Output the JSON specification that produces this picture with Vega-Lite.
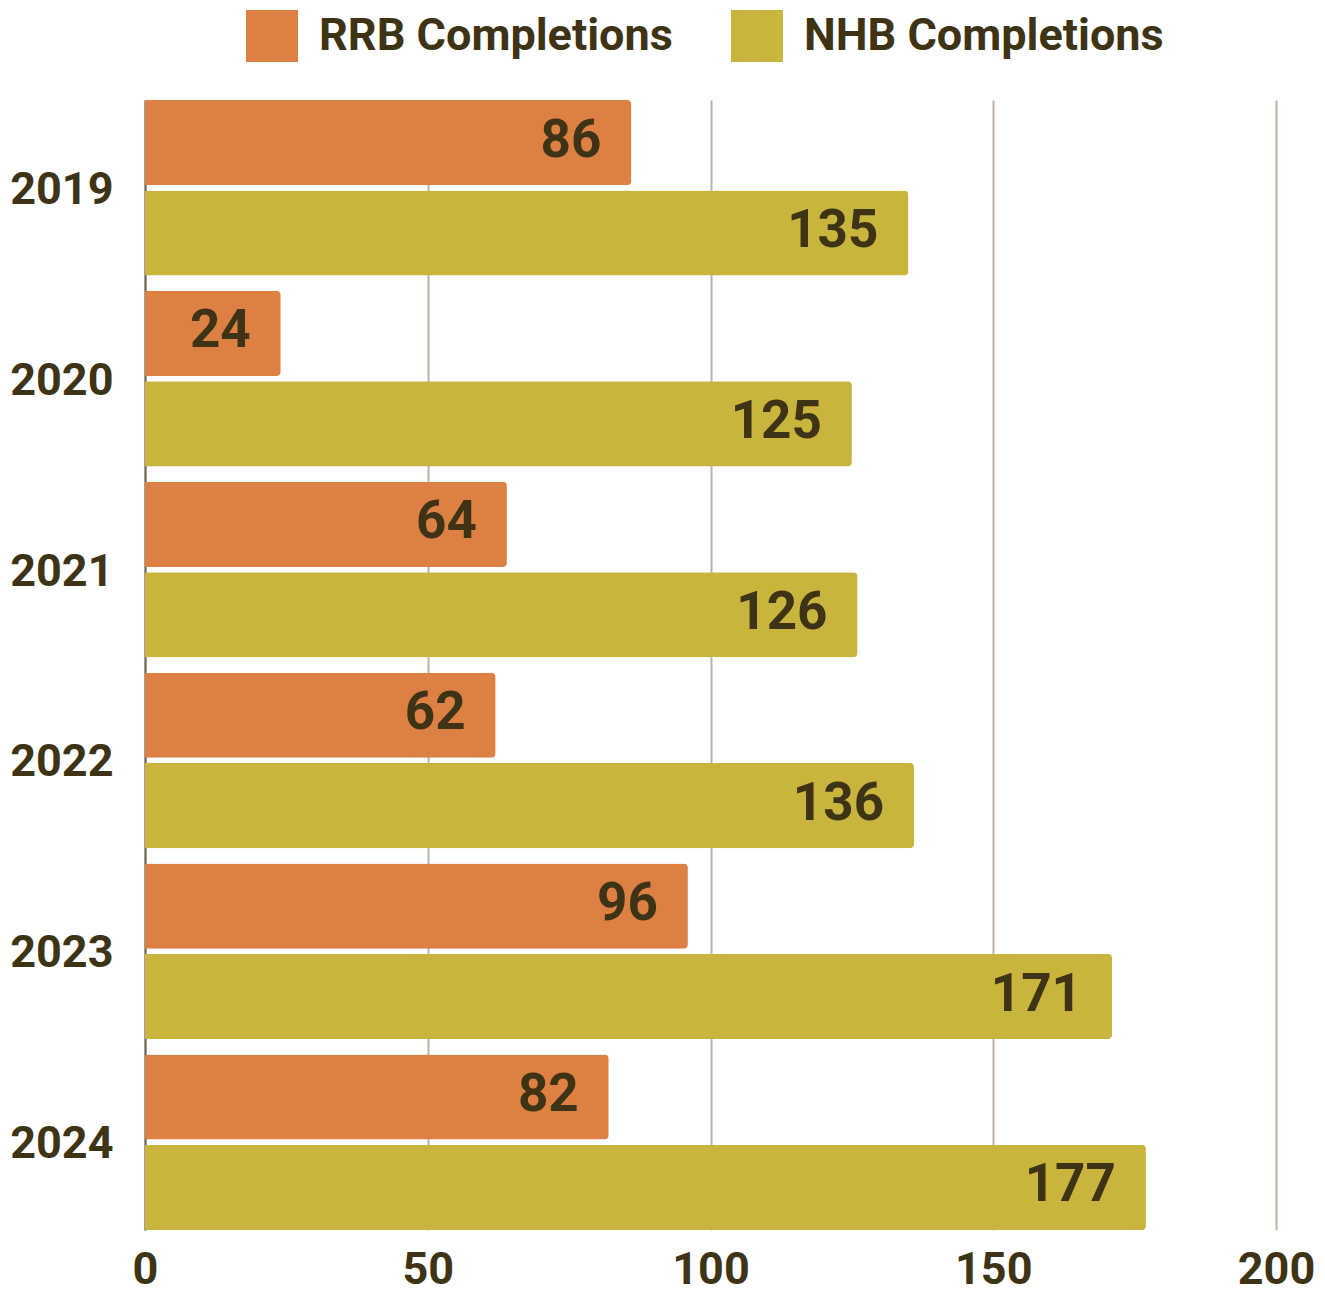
{
  "$schema": "https://vega.github.io/schema/vega-lite/v6.json",
  "width": 1131,
  "height": 1130,
  "autosize": {"type": "none"},
  "padding": {"left": 145, "top": 100, "right": 49, "bottom": 63},
  "background": "white",
  "config": {"view": {"stroke": null}, "font": "Roboto"},
  "data": {
    "values": [
      {"year": "2019", "series": "RRB Completions", "value": 86},
      {"year": "2019", "series": "NHB Completions", "value": 135},
      {"year": "2020", "series": "RRB Completions", "value": 24},
      {"year": "2020", "series": "NHB Completions", "value": 125},
      {"year": "2021", "series": "RRB Completions", "value": 64},
      {"year": "2021", "series": "NHB Completions", "value": 126},
      {"year": "2022", "series": "RRB Completions", "value": 62},
      {"year": "2022", "series": "NHB Completions", "value": 136},
      {"year": "2023", "series": "RRB Completions", "value": 96},
      {"year": "2023", "series": "NHB Completions", "value": 171},
      {"year": "2024", "series": "RRB Completions", "value": 82},
      {"year": "2024", "series": "NHB Completions", "value": 177}
    ]
  },
  "encoding": {
    "y": {
      "field": "year",
      "type": "nominal",
      "scale": {"paddingInner": 0.08, "paddingOuter": 0},
      "axis": {
        "title": null,
        "domain": true,
        "domainColor": "#6E6250",
        "domainWidth": 2,
        "ticks": false,
        "grid": false,
        "labelPadding": 32,
        "labelFont": "Roboto",
        "labelFontSize": 45,
        "labelFontWeight": "bold",
        "labelColor": "#3F3316",
        "labelOffset": 2
      }
    },
    "yOffset": {
      "field": "series",
      "type": "nominal",
      "sort": ["RRB Completions", "NHB Completions"],
      "scale": {"paddingInner": 0.057, "paddingOuter": 0}
    },
    "x": {
      "field": "value",
      "type": "quantitative",
      "scale": {"domain": [0, 200], "nice": false},
      "axis": {
        "title": null,
        "domain": false,
        "ticks": false,
        "grid": true,
        "gridColor": "#BDB4A9",
        "gridWidth": 2,
        "values": [0, 50, 100, 150, 200],
        "labelFlush": false,
        "labelPadding": 17,
        "labelFont": "Roboto",
        "labelFontSize": 45,
        "labelFontWeight": "bold",
        "labelColor": "#3F3316"
      }
    }
  },
  "layer": [
    {
      "mark": {"type": "bar", "cornerRadiusEnd": 4},
      "encoding": {
        "color": {
          "field": "series",
          "type": "nominal",
          "scale": {
            "domain": ["RRB Completions", "NHB Completions"],
            "range": ["#DC8044", "#C9B43E"]
          },
          "legend": {
            "title": null,
            "orient": "none",
            "legendX": 101,
            "legendY": -90,
            "direction": "horizontal",
            "symbolType": "square",
            "symbolSize": 2704,
            "symbolStrokeWidth": 0,
            "symbolOpacity": 1,
            "labelFont": "Roboto",
            "labelFontSize": 45,
            "labelFontWeight": "bold",
            "labelColor": "#3F3316",
            "labelLimit": 0,
            "labelOffset": 21,
            "columnPadding": 58
          }
        }
      }
    },
    {
      "mark": {
        "type": "text",
        "align": "right",
        "baseline": "middle",
        "dx": -30,
        "dy": -2,
        "font": "Roboto",
        "fontSize": 53,
        "fontWeight": "bold",
        "color": "#3F3316"
      },
      "encoding": {"text": {"field": "value", "type": "quantitative"}}
    }
  ]
}
